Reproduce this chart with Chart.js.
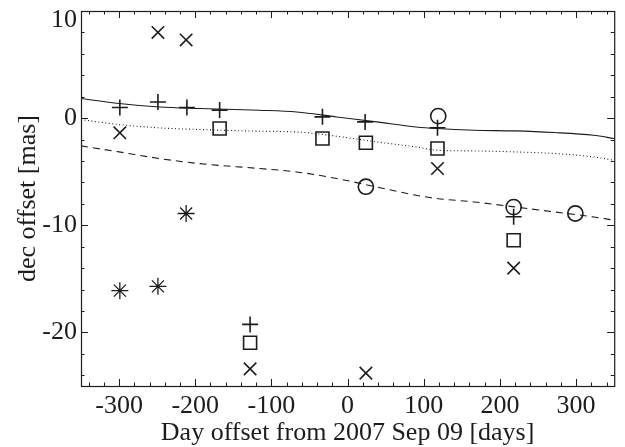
<!DOCTYPE html>
<html>
<head>
<meta charset="utf-8">
<script src="https://cdn.jsdelivr.net/npm/chart.js@4.4.1/dist/chart.umd.min.js"></script>
<style>
  html,body{margin:0;padding:0;background:#fff;}
  canvas{display:block;}
</style>
</head>
<body>
<canvas id="offsetChart" width="625" height="447"></canvas>
<script>
// DATA
const plusX = [-299, -249, -211, -168, -33, 23, 118, 218, -128];
const plusY = [1.0, 1.5, 1.0, 0.75, 0.12, -0.35, -0.9, -9.2, -19.25];

const squareX = [-168, -33, 24, 118, 218, -128];
const squareY = [-0.97, -1.9, -2.3, -2.83, -11.4, -20.96];

const circleX = [119, 24, 218, 299];
const circleY = [0.19, -6.4, -8.3, -8.9];

const crossX = [-249, -212, -299, 118, 218, -128, 24];
const crossY = [8.0, 7.3, -1.37, -4.7, -14.0, -23.4, -23.8];

const starX = [-212, -299, -249];
const starY = [-8.9, -16.1, -15.7];

// model curves
const curveX  = [-350, -300, -247, -195, -116, -67, -14, 38, 90, 117, 166, 219, 271, 323, 350];
const solidY  = [1.83, 1.36, 1.04, 0.90, 0.74, 0.58, 0.11, -0.35, -0.82, -0.97, -1.13, -1.19, -1.34, -1.60, -1.90];
const dottedY = [-0.13, -0.60, -0.91, -1.06, -1.22, -1.29, -1.69, -2.22, -2.69, -2.99, -3.06, -3.15, -3.30, -3.62, -3.93];
const dashedY = [-2.59, -3.15, -3.77, -4.24, -4.70, -5.02, -5.64, -6.42, -7.20, -7.50, -7.82, -8.28, -8.75, -9.22, -9.53];

// axes
const xMajor = [-300, -200, -100, 0, 100, 200, 300];
const yMajor = [-20, -10, 0, 10];
const xTitle = 'Day offset from 2007 Sep 09 [days]';
const yTitle = 'dec offset [mas]';

const INK = '#1c1c1c';
const FONT = '"Liberation Serif", "DejaVu Serif", serif';

function pts(xs, ys){ return xs.map((x,i)=>({x:x, y:ys[i]})); }

function markerSet(xs, ys, style, r, w){
  return {data:pts(xs,ys), showLine:false, pointStyle:style, pointRadius:r, pointHoverRadius:r,
    borderColor:INK, backgroundColor:'rgba(0,0,0,0)', pointBorderWidth:w||1.6};
}
function curveSet(ys, dash){
  return {data:pts(curveX,ys), showLine:true, pointRadius:0, borderColor:INK, borderWidth:1.1,
    borderDash:dash, cubicInterpolationMode:'monotone', fill:false};
}

// frame, inward ticks and labels drawn from the chart's scales
const framePlugin = {
  id:'frame',
  afterDraw(chart){
    const ctx = chart.ctx, a = chart.chartArea;
    const sx = chart.scales.x, sy = chart.scales.y;
    ctx.save();
    ctx.strokeStyle = INK;
    ctx.lineWidth = 1.2;
    ctx.strokeRect(a.left+0.5, a.top+0.5, a.right-a.left, a.bottom-a.top);

    ctx.lineWidth = 1;
    ctx.beginPath();
    for(let v=-340; v<=340; v+=20){
      const p = Math.round(sx.getPixelForValue(v))+0.5;
      const len = v%100===0 ? 7 : 3.5;
      ctx.moveTo(p, a.bottom); ctx.lineTo(p, a.bottom-len);
      ctx.moveTo(p, a.top); ctx.lineTo(p, a.top+len);
    }
    for(let v=-24; v<=8; v+=2){
      const p = Math.round(sy.getPixelForValue(v))+0.5;
      const len = v%10===0 ? 7 : 3.5;
      ctx.moveTo(a.left, p); ctx.lineTo(a.left+len, p);
      ctx.moveTo(a.right, p); ctx.lineTo(a.right-len, p);
    }
    ctx.stroke();

    ctx.fillStyle = INK;
    ctx.font = '26px ' + FONT;
    ctx.textAlign = 'center';
    ctx.textBaseline = 'middle';
    xMajor.forEach(v=>{
      ctx.fillText(String(v), sx.getPixelForValue(v), a.bottom+20);
    });
    ctx.textAlign = 'right';
    yMajor.forEach(v=>{
      const p = Math.max(sy.getPixelForValue(v), a.top+9);
      ctx.fillText(String(v), a.left-4, p);
    });

    ctx.textAlign = 'center';
    ctx.fillText(xTitle, (a.left+a.right)/2, a.bottom+47);

    ctx.translate(28, (a.top+a.bottom)/2);
    ctx.rotate(-Math.PI/2);
    ctx.fillText(yTitle, 0, 0);
    ctx.restore();
  }
};

const chart = new Chart(document.getElementById('offsetChart').getContext('2d'), {
  type:'scatter',
  data:{datasets:[
    curveSet(solidY, []),
    curveSet(dottedY, [1,2.5]),
    curveSet(dashedY, [7,5]),
    markerSet(plusX, plusY, 'cross', 8),
    markerSet(squareX, squareY, 'rect', 9.2),
    markerSet(circleX, circleY, 'circle', 7.6),
    markerSet(crossX, crossY, 'crossRot', 8.8),
    markerSet(starX, starY, 'star', 8.5, 1.3)
  ]},
  options:{
    responsive:false,
    animation:false,
    layout:{padding:{left:81, right:9, top:11, bottom:61}},
    plugins:{legend:{display:false}, tooltip:{enabled:false}},
    scales:{
      x:{type:'linear', min:-350, max:350, display:false},
      y:{type:'linear', min:-25, max:10, display:false}
    }
  },
  plugins:[framePlugin]
});
</script>
</body>
</html>
